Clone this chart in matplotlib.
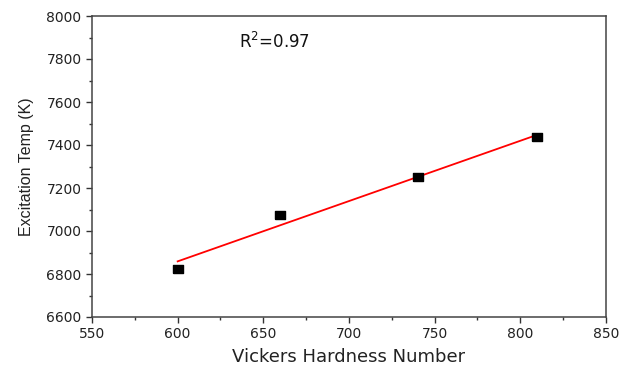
import numpy as np
import matplotlib
matplotlib.use("Agg")
from matplotlib import pyplot as plt
from matplotlib.ticker import MultipleLocator

plt.rcParams['font.family'] = ['DejaVu Sans']

hardness = [600, 660, 740, 810]
temp = [6825, 7075, 7250, 7435]

fig = plt.figure(figsize=(6.27, 3.65), dpi=100)
ax = fig.add_axes([92 / 627, 1 - 317 / 365, (606 - 92) / 627, (317 - 16) / 365])

# slightly wide square marker like the original
rect = [(-1.35, -1), (1.35, -1), (1.35, 1), (-1.35, 1), (-1.35, -1)]
ax.plot(hardness, temp, linestyle='none', marker=rect, color='black', markersize=7.5, zorder=3)

# linear fit
k, b = np.polyfit(hardness, temp, 1)
xf = np.array([min(hardness), max(hardness)])
ax.plot(xf, k * xf + b, color='red', lw=1.3)

ax.text(636, 7880, "R$^2$=0.97", fontsize=12, va='center', ha='left', color='#111111')

ax.set_xlim(550, 850)
ax.set_ylim(6600, 8000)
ax.xaxis.set_major_locator(MultipleLocator(50))
ax.xaxis.set_minor_locator(MultipleLocator(25))
ax.yaxis.set_major_locator(MultipleLocator(200))
ax.yaxis.set_minor_locator(MultipleLocator(100))
ax.tick_params(which='major', length=4, width=1, labelsize=10, colors='#333333', labelcolor='#222222')
ax.tick_params(which='minor', length=2.5, width=1, colors='#333333')
for s in ax.spines.values():
    s.set_color('#444444')
    s.set_linewidth(1.1)

ax.set_xlabel("Vickers Hardness Number", fontsize=13, labelpad=5, color='#222222')
ax.set_ylabel("Excitation Temp (K)", fontsize=11.5, labelpad=9, color='#222222',
              family=['Liberation Sans', 'DejaVu Sans'])

fig.savefig("out.png", dpi=100)
